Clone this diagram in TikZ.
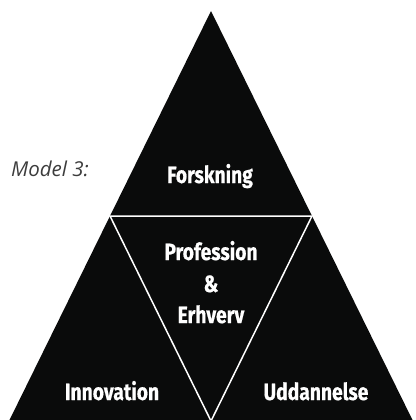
\documentclass[tikz,border=0pt]{standalone}
\usepackage{fontspec}
\usetikzlibrary{calc}
\setmainfont{Open Sans}
\newfontfamily\condfont[FakeStretch=0.82,BoldFeatures={FakeBold=0.6}]{Fira Sans}
\newfontfamily\modelfont{Open Sans}
\definecolor{pyr}{RGB}{10,11,11}
\definecolor{modelgray}{RGB}{60,60,60}
\tikzset{
  lbl/.style={anchor=base, text=white, inner sep=0pt, font=\condfont\bfseries\fontsize{23.5}{27}\selectfont},
  sep/.style={draw=white, line width=1.5pt},
}
\begin{document}
\begin{tikzpicture}[x=1pt,y=-1pt]
\useasboundingbox (0,0) rectangle (415,420);
\coordinate (apex) at (211,11);
\coordinate (bl) at (9,421);
\coordinate (br) at (413,421);
\coordinate (ml) at ($(apex)!0.5!(bl)$);
\coordinate (mr) at ($(apex)!0.5!(br)$);
\coordinate (mb) at ($(bl)!0.5!(br)$);
\fill[pyr] (apex) -- (bl) -- (br) -- cycle;
\draw[sep] (ml) -- (mr) -- (mb) -- cycle;
\node[lbl] (forsk) at (210,183) {Forskning};
\node[lbl] (prof) at (211,260) {Profession};
\node[lbl] (amp) at (211,292) {\&};
\node[lbl] (erh) at (211,323) {Erhverv};
\node[lbl] (innov) at (112,400) {Innovation};
\node[lbl] (udd) at (316,400) {Uddannelse};
\node[anchor=base west, inner sep=0pt, text=modelgray, font=\modelfont\itshape\fontsize{20.5}{24}\selectfont] (model) at (11,176) {Model 3:};
\end{tikzpicture}
\end{document}
